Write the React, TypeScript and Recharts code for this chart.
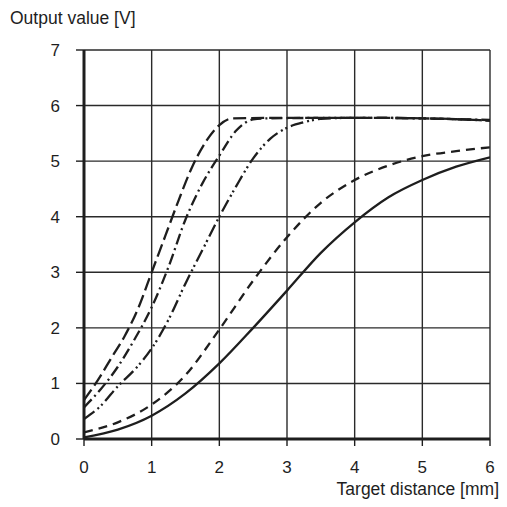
import React from "react";
import { LineChart, Line, XAxis, YAxis, CartesianGrid } from "recharts";

const xTicks = [0, 1, 2, 3, 4, 5, 6];
const yTicks = [0, 1, 2, 3, 4, 5, 6, 7];

const aX = [0, 0.2, 0.4, 0.6, 0.8, 1.0, 1.2, 1.4, 1.6, 1.8, 2.0, 2.2, 3, 4, 5, 6];
const aY = [0.7, 1.05, 1.45, 1.85, 2.35, 3.0, 3.65, 4.3, 4.9, 5.35, 5.65, 5.77, 5.78, 5.78, 5.77, 5.73];

const bX = [0, 0.25, 0.5, 0.75, 1.0, 1.25, 1.5, 1.75, 2.0, 2.25, 2.5, 2.75, 4, 5, 6];
const bY = [0.57, 0.9, 1.3, 1.8, 2.37, 3.1, 3.95, 4.6, 5.1, 5.55, 5.75, 5.77, 5.78, 5.77, 5.74];

const cX = [0, 0.25, 0.5, 0.75, 1.0, 1.25, 1.5, 1.75, 2.0, 2.25, 2.5, 2.75, 3.0, 3.25, 3.5, 4, 5, 6];
const cY = [0.36, 0.6, 0.95, 1.25, 1.63, 2.15, 2.8, 3.4, 4.0, 4.55, 5.05, 5.4, 5.6, 5.7, 5.76, 5.78, 5.77, 5.73];

const dX = [0, 0.5, 1.0, 1.5, 2.0, 2.5, 3.0, 3.5, 4.0, 4.5, 5.0, 5.5, 6];
const dY = [0.12, 0.3, 0.62, 1.15, 1.97, 2.85, 3.63, 4.25, 4.66, 4.92, 5.09, 5.18, 5.25];

const eX = [0, 0.5, 1.0, 1.5, 2.0, 2.5, 3.0, 3.5, 4.0, 4.5, 5.0, 5.5, 6];
const eY = [0.03, 0.17, 0.42, 0.82, 1.36, 2.0, 2.67, 3.35, 3.9, 4.35, 4.66, 4.9, 5.07];

const build = (xs: number[], ys: number[]) => xs.map((x, i) => ({ x, y: ys[i] }));

const series = [
  { name: "A", data: build(aX, aY), dash: "13 5" },
  { name: "B", data: build(bX, bY), dash: "11 4 2 4" },
  { name: "C", data: build(cX, cY), dash: "13 4 2 3 2 4" },
  { name: "D", data: build(dX, dY), dash: "9 6" },
  { name: "E", data: build(eX, eY), dash: undefined as string | undefined },
];

const font = "'Liberation Sans', Arial, Helvetica, sans-serif";
const ink = "#1e1e1e";

export default function App() {
  return (
    <div style={{ position: "relative", width: 491, height: 491, fontFamily: font, overflow: "hidden" }}>
      <LineChart
        width={491}
        height={491}
        margin={{ top: 42, right: 9, bottom: 30, left: 0 }}
      >
        <CartesianGrid stroke="#2a2a2a" strokeWidth={1.4} />
        <XAxis
          type="number"
          dataKey="x"
          domain={[0, 6]}
          ticks={xTicks}
          interval={0}
          allowDataOverflow
          height={30}
          tickSize={7}
          tickLine={{ stroke: ink, strokeWidth: 1.4 }}
          axisLine={{ stroke: ink, strokeWidth: 3 }}
          tickMargin={15}
          tick={{ fill: ink, fontSize: 17, fontFamily: font }}
        />
        <YAxis
          type="number"
          domain={[0, 7]}
          ticks={yTicks}
          interval={0}
          allowDataOverflow
          width={76}
          tickSize={8}
          tickLine={{ stroke: ink, strokeWidth: 1.4 }}
          axisLine={{ stroke: ink, strokeWidth: 3 }}
          tickMargin={16}
          tick={{ fill: ink, fontSize: 17, fontFamily: font }}
        />
        {series.map((s) => (
          <Line
            key={s.name}
            data={s.data}
            dataKey="y"
            type="monotone"
            stroke={ink}
            strokeWidth={2.3}
            strokeDasharray={s.dash}
            dot={false}
            activeDot={false}
            isAnimationActive={false}
          />
        ))}
      </LineChart>
      <div style={{ position: "absolute", left: 2, top: 0, fontSize: 17.5, lineHeight: "20px", color: ink, whiteSpace: "nowrap" }}>
        Output value [V]
      </div>
      <div style={{ position: "absolute", right: 0, top: 471, fontSize: 17.5, lineHeight: "20px", color: ink, whiteSpace: "nowrap" }}>
        Target distance [mm]
      </div>
    </div>
  );
}
